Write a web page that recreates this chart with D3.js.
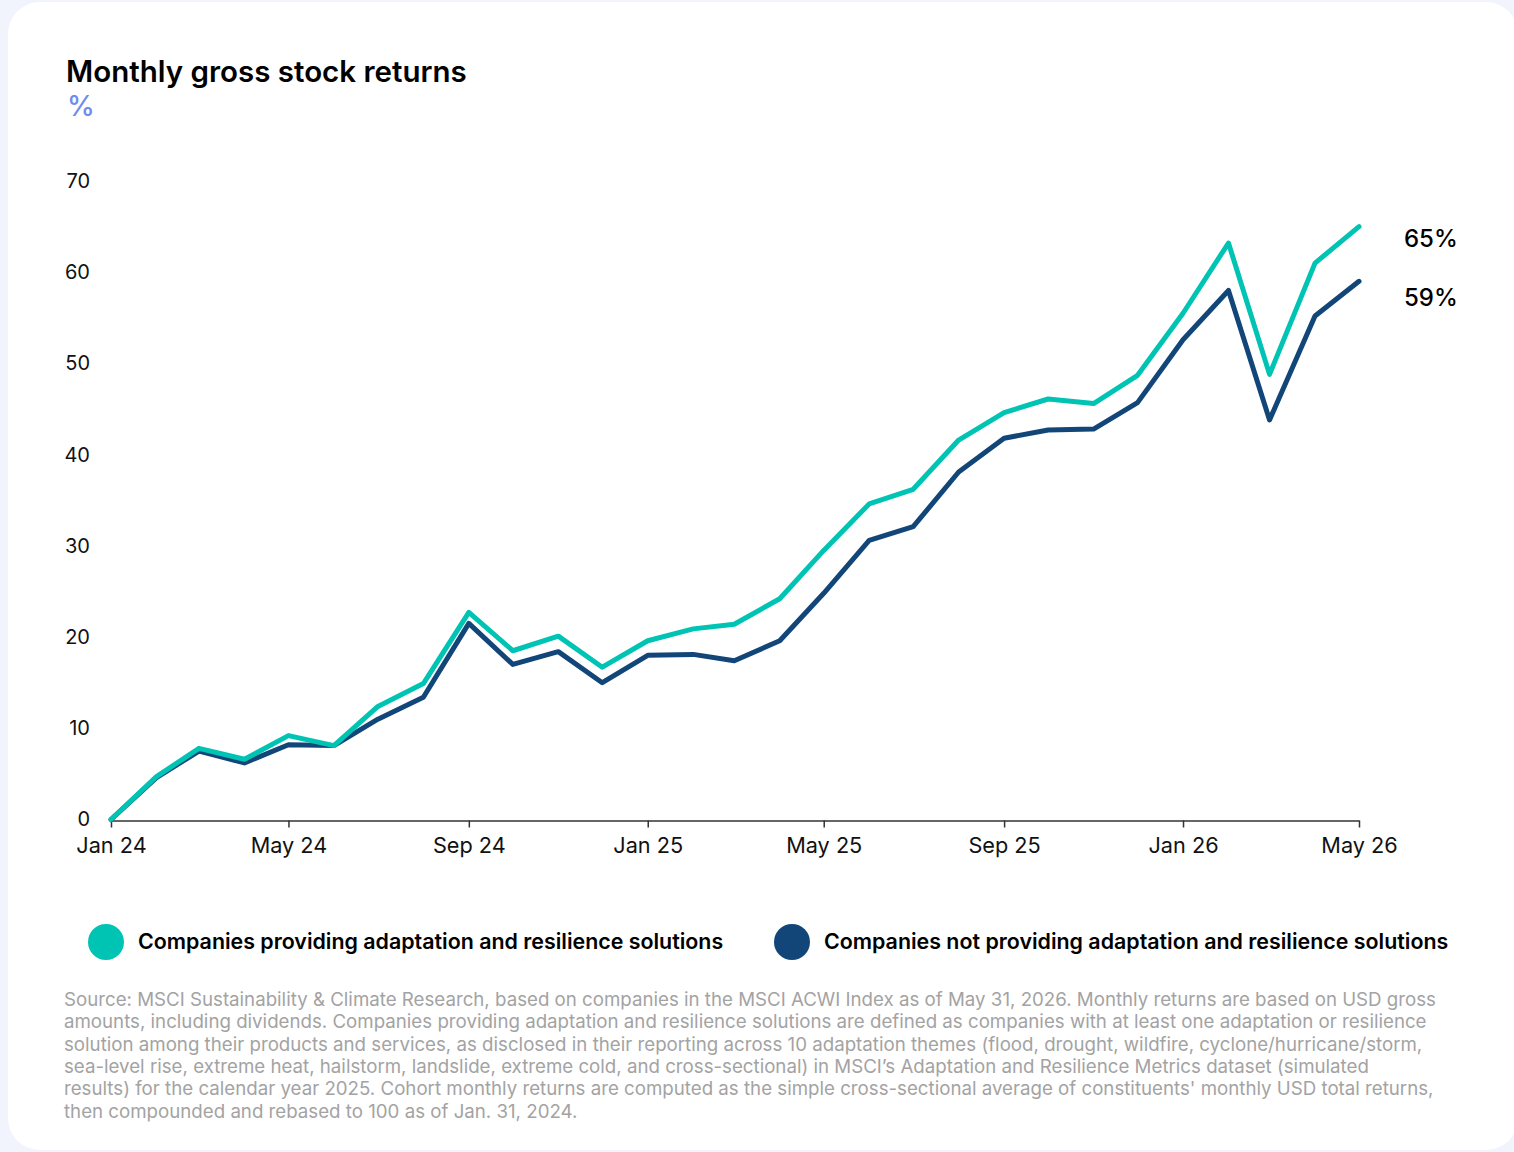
<!DOCTYPE html>
<html>
<head>
<meta charset="utf-8">
<script src="https://cdn.jsdelivr.net/npm/d3@7"></script>
<style>
  html, body { margin: 0; padding: 0; background: #f1f4fc; }
  svg { display: block; font-family: Inter, "Noto Sans", sans-serif; }
</style>
</head>
<body>
<svg id="chart" width="1514" height="1152"></svg>
<script>
// Month-end observations, Jan 2024 – May 2026
const months = d3.range(29).map(i => new Date(2024, i, 1));

// Cumulative gross return (%) per cohort
const providers = [0, 4.7, 7.8, 6.6, 9.2, 8.1, 12.4, 14.9, 22.7, 18.5, 20.1, 16.7, 19.6, 20.9, 21.4,
  24.2, 29.5, 34.6, 36.2, 41.6, 44.6, 46.1, 45.6, 48.7, 55.5, 63.2, 48.8, 61.0, 65];
const nonProviders = [0, 4.6, 7.5, 6.2, 8.2, 8.1, 11.0, 13.4, 21.5, 17.0, 18.4, 15.0, 18.0, 18.1, 17.4,
  19.6, 24.8, 30.6, 32.1, 38.1, 41.8, 42.7, 42.8, 45.7, 52.6, 58.0, 43.8, 55.2, 59];

const seriesNames = [
  "Companies providing adaptation and resilience solutions",
  "Companies not providing adaptation and resilience solutions"
];
const seriesColors = ["#00c4b3", "#124679"];
const yTicks = [0, 10, 20, 30, 40, 50, 60, 70];

const footnote = [
  "Source: MSCI Sustainability & Climate Research, based on companies in the MSCI ACWI Index as of May 31, 2026. Monthly returns are based on USD gross",
  "amounts, including dividends. Companies providing adaptation and resilience solutions are defined as companies with at least one adaptation or resilience",
  "solution among their products and services, as disclosed in their reporting across 10 adaptation themes (flood, drought, wildfire, cyclone/hurricane/storm,",
  "sea-level rise, extreme heat, hailstorm, landslide, extreme cold, and cross-sectional) in MSCI\u2019s Adaptation and Resilience Metrics dataset (simulated",
  "results) for the calendar year 2025. Cohort monthly returns are computed as the simple cross-sectional average of constituents' monthly USD total returns,",
  "then compounded and rebased to 100 as of Jan. 31, 2024."
];

const series = [providers, nonProviders].map((vals, k) => ({
  name: seriesNames[k],
  color: seriesColors[k],
  points: vals.map((v, i) => ({ date: months[i], value: v }))
}));

const svg = d3.select("#chart");

// card
svg.append("rect")
  .attr("x", 8).attr("y", 2)
  .attr("width", 1510).attr("height", 1148)
  .attr("rx", 32)
  .attr("fill", "#ffffff");

// title
svg.append("text")
  .attr("x", 66).attr("y", 82)
  .attr("font-size", 29.5).attr("font-weight", 600)
  .attr("fill", "#000")
  .text("Monthly gross stock returns");
svg.append("text")
  .attr("x", 67).attr("y", 116)
  .attr("font-size", 28).attr("font-weight", 500)
  .attr("fill", "#6f8bef")
  .text("%");

const x = d3.scaleTime()
  .domain([months[0], months[months.length - 1]])
  .range([111, 1359]);
const y = d3.scaleLinear()
  .domain([0, 70])
  .range([819.5, 181]);

// y axis labels (no line)
const yAxis = svg.append("g")
  .attr("transform", "translate(90,0)")
  .call(d3.axisLeft(y).tickValues(yTicks).tickSize(0).tickPadding(0).tickFormat(d3.format("d")));
yAxis.select(".domain").remove();
yAxis.selectAll("text")
  .attr("font-family", "Inter, sans-serif")
  .attr("font-size", 20)
  .attr("fill", "#111");

// x axis
const xAxis = svg.append("g")
  .attr("transform", `translate(0,${y(0) + 1})`)
  .call(d3.axisBottom(x)
    .tickValues(months.filter((d, i) => i % 4 === 0))
    .tickSize(7).tickSizeOuter(0).tickPadding(10)
    .tickFormat(d3.timeFormat("%b %y")));
xAxis.select(".domain").attr("stroke", "#333").attr("stroke-width", 1.5);
xAxis.selectAll(".tick line").attr("stroke", "#333").attr("stroke-width", 1.5);
xAxis.selectAll("text")
  .attr("font-family", "Inter, sans-serif")
  .attr("font-size", 21.7)
  .attr("fill", "#111");

// lines
const line = d3.line()
  .x(d => x(d.date))
  .y(d => y(d.value));

svg.append("g")
  .selectAll("path")
  .data(series.slice().reverse())
  .join("path")
  .attr("d", d => line(d.points))
  .attr("fill", "none")
  .attr("stroke", d => d.color)
  .attr("stroke-width", 5)
  .attr("stroke-linejoin", "round")
  .attr("stroke-linecap", "round");

// end labels
const pct = v => d3.format(".0f")(v) + "%";
svg.append("g")
  .selectAll("text")
  .data(series)
  .join("text")
  .attr("x", 1404)
  .attr("y", (d, i) => y(d.points[d.points.length - 1].value) + (i === 0 ? 14 : 18))
  .attr("dominant-baseline", "middle")
  .attr("font-size", 24)
  .attr("font-weight", 500)
  .attr("fill", "#000")
  .text(d => pct(d.points[d.points.length - 1].value));

// legend
const legendX = [106, 792];
const legend = svg.append("g")
  .selectAll("g")
  .data(series)
  .join("g")
  .attr("transform", (d, i) => `translate(${legendX[i]},942)`);
legend.append("circle")
  .attr("r", 18)
  .attr("fill", d => d.color);
legend.append("text")
  .attr("x", 32)
  .attr("y", 1)
  .attr("dominant-baseline", "middle")
  .attr("font-size", 21.4)
  .attr("font-weight", 600)
  .attr("fill", "#000")
  .text(d => d.name);

// footnote
svg.append("text")
  .attr("x", 64).attr("y", 1006)
  .attr("font-size", 18.7)
  .attr("fill", "#a3a3a3")
  .selectAll("tspan")
  .data(footnote)
  .join("tspan")
  .attr("x", 64)
  .attr("dy", (d, i) => i === 0 ? 0 : 22.3)
  .text(d => d);
</script>
</body>
</html>
